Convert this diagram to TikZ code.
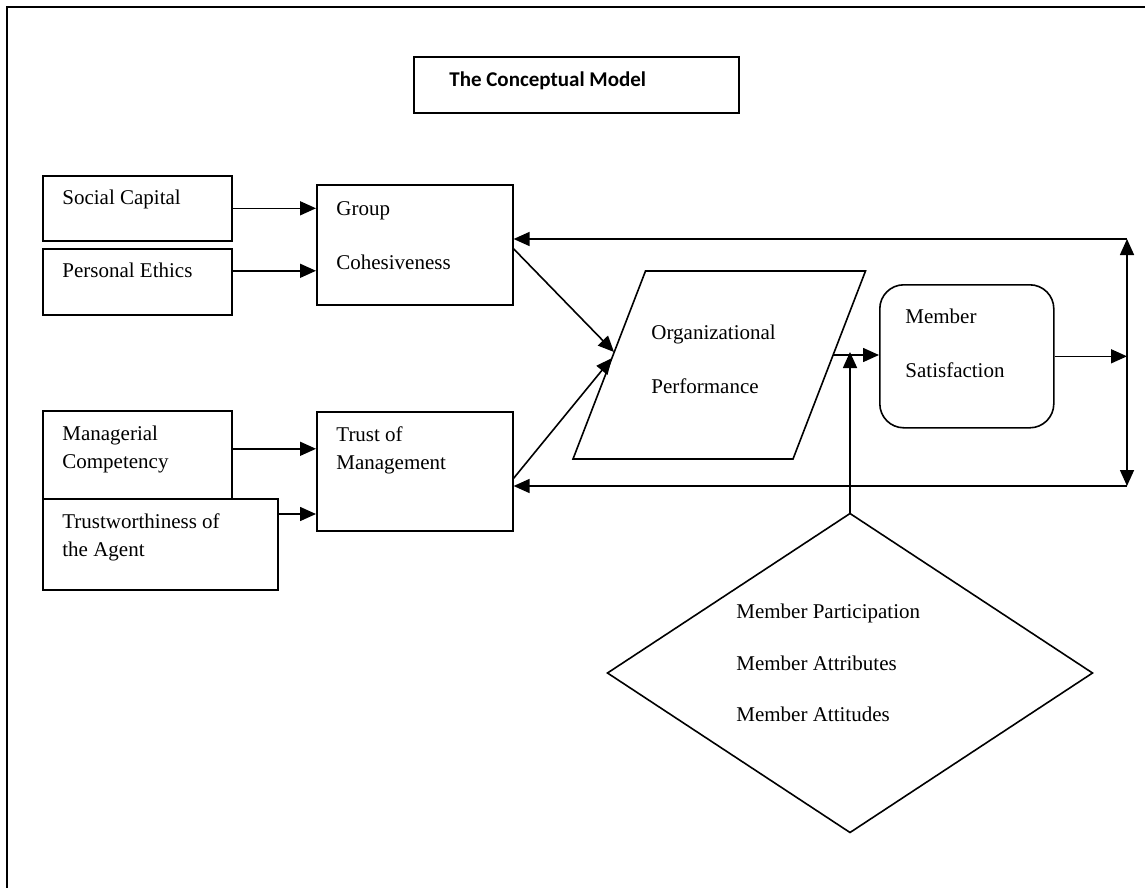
\documentclass[tikz,border=0pt]{standalone}
\usepackage{fontspec}
\setmainfont{Liberation Serif}
\newfontfamily\titlefont{Carlito}
\usetikzlibrary{arrows.meta,shapes.geometric}

\begin{document}
\begin{tikzpicture}[
    x=0.5pt, y=-0.5pt,
    box/.style={rectangle, draw, line width=0.8pt, anchor=north west, inner sep=0pt},
    txt/.style={anchor=north west, inner sep=0pt, align=left,
                font=\fontsize{10.5}{14}\selectfont},
    arr/.style={-{Triangle[length=8pt, width=7pt]}, line width=0.8pt},
    darr/.style={{Triangle[length=8pt, width=7pt]}-{Triangle[length=8pt, width=7pt]}, line width=0.8pt},
  ]
  \useasboundingbox (0,0) rectangle (1145,888);

  % outer frame
  \draw[line width=1.2pt] (7,7) rectangle (1200,950);

  % === Title ===
  \node[box, minimum width=162.5pt, minimum height=28pt] (ttl) at (413,56) {};
  \node[txt, anchor=base west, font=\titlefont\bfseries\fontsize{10.5}{14}\selectfont] (ttlT) at (449,87) {The Conceptual Model};

  % === Antecedents (left) ===
  \node[box, minimum width=94.5pt, minimum height=32.5pt] (soc) at (42,175) {};
  \node[txt] (socT) at (62,190) {Social Capital};
  \node[box, minimum width=94.5pt, minimum height=33pt] (eth) at (42,248) {};
  \node[txt] (ethT) at (62,263) {Personal Ethics};

  \node[box, minimum width=94.5pt, minimum height=44pt] (mgr) at (42,410) {};
  \node[txt] (mgrT) at (62,426) {Managerial\\Competency};
  \node[box, minimum width=117.5pt, minimum height=45.5pt] (agt) at (42,498) {};
  \node[txt] (agtT) at (62,513) {Trustworthiness of\\the Agent};

  % === Mediators ===
  \node[box, minimum width=98pt, minimum height=60pt] (grp) at (316,184) {};
  \node[txt] (grpT) at (336,201) {Group\\[13pt]Cohesiveness};
  \node[box, minimum width=98pt, minimum height=59.5pt] (tom) at (316,411) {};
  \node[txt] (tomT) at (336,426) {Trust of\\Management};

  % === Performance and satisfaction ===
  \draw[line width=0.8pt] (573,459) -- (793,459) -- (865.5,271) -- (645.5,271) -- cycle;
  \coordinate (orgA) at (614,352);
  \coordinate (orgB) at (612,358);
  \coordinate (orgC) at (833,355);
  \node[txt] (orgT) at (651,325) {Organizational\\[13pt]Performance};

  \node[box, rounded corners=12pt, minimum width=87pt, minimum height=71.5pt] (sat) at (879,284) {};
  \node[txt] (satT) at (905,309) {Member\\[13pt]Satisfaction};

  % === Member factors ===
  \node[diamond, draw, line width=0.8pt, minimum width=242.5pt, minimum height=159.5pt,
        inner sep=0pt, outer sep=0pt] (mem) at (850,673) {};
  \node[txt] (memT) at (736,604) {Member Participation\\[11.75pt]Member Attributes\\[11.75pt]Member Attitudes};

  % feedback corners
  \coordinate (fbT) at (1127,239);
  \coordinate (fbB) at (1127,486);

  \draw[arr] (soc.east) -- (soc.east -| grp.west);
  \draw[arr] ([yshift=5.5pt]eth.east) -- ([yshift=5.5pt]eth.east -| grp.west);
  \draw[arr] ([yshift=3pt]mgr.east) -- ([yshift=3pt]mgr.east -| tom.west);
  \draw[arr] ([yshift=-8pt]agt.north east) -- ([yshift=-8pt]agt.north east -| tom.west);
  \draw[arr] ([yshift=-2pt]grp.east) -- (orgA);
  \draw[arr] ([yshift=-3.5pt]tom.east) -- (orgB);
  \draw[arr] (orgC) -- (orgC -| sat.west);
  \draw[arr] (mem.north) -- ([yshift=1.5pt]mem.north |- orgC);
  \draw[arr] (sat.east) -- (sat.east -| fbT);
  \draw[darr] (fbB) -- (fbT);
  \draw[arr] (fbT) -- (fbT -| grp.east);
  \draw[arr] (fbB) -- (fbB -| tom.east);

\end{tikzpicture}
\end{document}
